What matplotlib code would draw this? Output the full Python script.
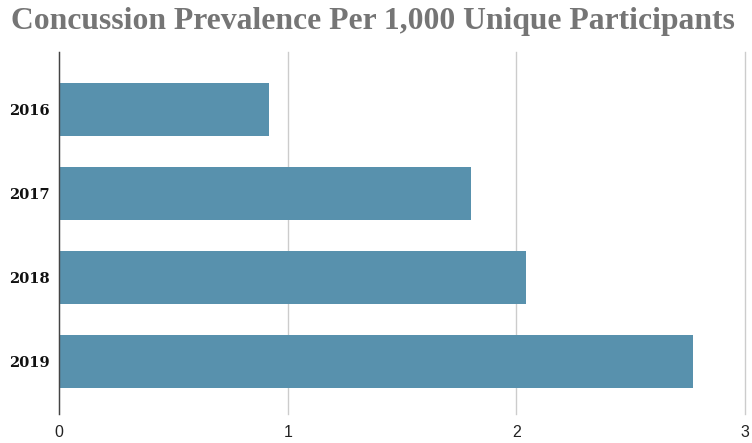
import matplotlib.pyplot as plt

# data
years = ['2016', '2017', '2018', '2019']
prevalence = [0.92, 1.80, 2.04, 2.77]
x_ticks = [0, 1, 2, 3]

fig = plt.figure(figsize=(7.52, 4.43), dpi=100)
ax = fig.add_axes([0.0785, 0.0655, 0.9125, 0.817])

pos = list(range(len(years)))
ax.barh(pos, prevalence, height=0.635, color='#5891ad', zorder=3)

ax.set_ylim(3.63, -0.69)
ax.set_xlim(0, 3)
ax.set_yticks(pos)
ax.set_yticklabels(years, fontfamily='DejaVu Serif', fontweight='bold', fontsize=10.5, color='#111111')
ax.set_xticks(x_ticks)
ax.set_xticklabels([str(t) for t in x_ticks], fontfamily='Liberation Sans', fontsize=11.5, color='#222222')
ax.tick_params(axis='both', length=0)
ax.tick_params(axis='y', pad=7)
ax.tick_params(axis='x', pad=8)

ax.grid(axis='x', color='#cccccc', linewidth=1, zorder=0)
for gl in ax.get_xgridlines():
    gl.set_clip_on(False)
for side in ['top', 'right', 'bottom']:
    ax.spines[side].set_visible(False)
ax.spines['left'].set_color('#444444')
ax.spines['left'].set_linewidth(1)
ax.spines['left'].set_zorder(4)

fig.text(0.4955, 0.952, 'Concussion Prevalence Per 1,000 Unique Participants',
         ha='center', va='center', fontfamily='Liberation Serif', fontweight='bold',
         fontsize=22.8, color='#757575')

plt.savefig('out.png', dpi=100)
